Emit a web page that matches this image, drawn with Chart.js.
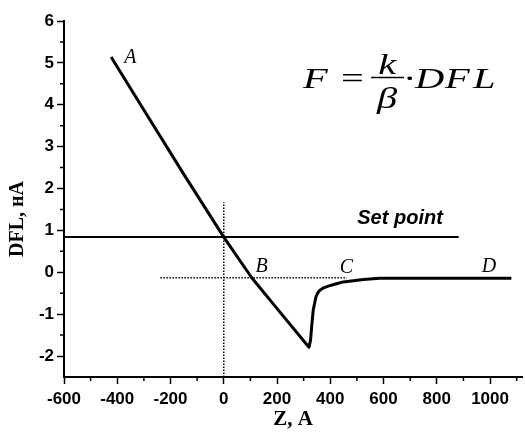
<!DOCTYPE html>
<html>
<head>
<meta charset="utf-8">
<script src="https://cdn.jsdelivr.net/npm/chart.js@4.4.1/dist/chart.umd.min.js"></script>
<style>
  html, body { margin: 0; padding: 0; background: #fff; }
  #wrap { width: 525px; height: 432px; position: relative; }
</style>
</head>
<body>
<div id="wrap"><canvas id="myChart" width="525" height="432"></canvas></div>
<script>
// curve (Z in A, DFL in nA)
const curveZ   = [-423, -314, -151, 0, 105, 211, 320, 326, 330, 336, 346, 353, 361, 375, 392, 420, 449, 524, 586, 700, 850, 1000, 1080];
const curveDFL = [5.14, 4.02, 2.35, 0.84, -0.13, -0.95, -1.79, -1.62, -1.30, -0.90, -0.59, -0.49, -0.43, -0.37, -0.33, -0.28, -0.23, -0.17, -0.14, -0.14, -0.14, -0.14, -0.14];

// set point line and the two dotted guides
const setPointZ = [-600, 882];
const setPointDFL = [0.84, 0.84];
const vGuideZ = [0, 0];
const vGuideDFL = [-2.5, 1.67];
const hGuideZ = [-238, 462];
const hGuideDFL = [-0.13, -0.13];

// axes
const xTicks = [-600, -400, -200, 0, 200, 400, 600, 800, 1000];
const xMinor = [-500, -300, -100, 100, 300, 500, 700, 900, 1100];
const yTicks = [-2, -1, 0, 1, 2, 3, 4, 5, 6];
const yMinor = [-1.5, -0.5, 0.5, 1.5, 2.5, 3.5, 4.5, 5.5];

// letters on the curve
const pointNames = ['A', 'B', 'C', 'D'];
const pointZ = [-351, 142, 461, 996];
const pointDFL = [5.12, 0.14, 0.11, 0.14];

const toXY = (xs, ys) => xs.map((x, i) => ({ x: x, y: ys[i] }));

const sans = '"Liberation Sans", Arial, sans-serif';
const serif = '"Liberation Serif", "Times New Roman", serif';

// the formula in the picture is stretched sideways
function wideText(c, text, x, y, font, align) {
    c.save();
    c.translate(x, y);
    c.scale(1.35, 1);
    c.font = font;
    c.textAlign = align;
    c.fillText(text, 0, 0);
    c.restore();
}

const extras = {
    id: 'extras',
    afterDraw(chart) {
        const c = chart.ctx;
        const xs = chart.scales.x, ys = chart.scales.y;
        const area = chart.chartArea;
        c.save();

        // minor ticks
        c.strokeStyle = '#000';
        c.lineWidth = 1.5;
        c.beginPath();
        xMinor.forEach(v => {
            const px = xs.getPixelForValue(v);
            c.moveTo(px, area.bottom);
            c.lineTo(px, area.bottom + 4);
        });
        yMinor.forEach(v => {
            const py = ys.getPixelForValue(v);
            c.moveTo(area.left, py);
            c.lineTo(area.left - 4, py);
        });
        c.stroke();

        // A B C D
        c.fillStyle = '#000';
        c.textAlign = 'center';
        c.textBaseline = 'middle';
        c.font = 'italic 20px ' + serif;
        pointNames.forEach((n, i) => {
            c.fillText(n, xs.getPixelForValue(pointZ[i]), ys.getPixelForValue(pointDFL[i]));
        });

        // Set point
        c.font = 'bold italic 20px ' + sans;
        c.fillText('Set point', xs.getPixelForValue(662), ys.getPixelForValue(1.28));

        // formula F = k/β · DFL
        const fx = xs.getPixelForValue(298);
        const fy = ys.getPixelForValue(4.41);
        const it = 'italic 30px ' + serif, up = '30px ' + serif;
        c.textBaseline = 'alphabetic';
        wideText(c, 'F', fx, fy, it, 'left');
        wideText(c, '=', fx + 38, fy, up, 'left');
        wideText(c, 'k', fx + 84, fy - 14, it, 'center');
        wideText(c, '\u03B2', fx + 84, fy + 20, it, 'center');
        c.lineWidth = 1.5;
        c.beginPath();
        c.moveTo(fx + 68, fy - 10);
        c.lineTo(fx + 101, fy - 10);
        c.stroke();
        wideText(c, '\u00B7', fx + 100, fy, up, 'left');
        wideText(c, 'D', fx + 112, fy, it, 'left');
        wideText(c, 'F', fx + 142, fy, it, 'left');
        wideText(c, 'L', fx + 170, fy, it, 'left');

        // y title
        c.translate(area.left - 46, (area.top + area.bottom) / 2 + 20);
        c.rotate(-Math.PI / 2);
        c.textAlign = 'center';
        c.textBaseline = 'middle';
        c.font = 'bold 20px ' + serif;
        c.fillText('DFL, нА', 0, 0);

        c.restore();
    }
};

const ctx = document.getElementById('myChart').getContext('2d');

new Chart(ctx, {
    type: 'scatter',
    data: {
        datasets: [{
            data: toXY(curveZ, curveDFL),
            showLine: true,
            borderColor: '#000',
            borderWidth: 3,
            borderJoinStyle: 'round',
            pointRadius: 0,
            tension: 0
        }, {
            data: toXY(setPointZ, setPointDFL),
            showLine: true,
            borderColor: '#000',
            borderWidth: 2,
            pointRadius: 0
        }, {
            data: toXY(vGuideZ, vGuideDFL),
            showLine: true,
            borderColor: '#000',
            borderWidth: 1.5,
            borderDash: [1.5, 1.5],
            pointRadius: 0
        }, {
            data: toXY(hGuideZ, hGuideDFL),
            showLine: true,
            borderColor: '#000',
            borderWidth: 1.5,
            borderDash: [1.5, 1.5],
            pointRadius: 0
        }]
    },
    options: {
        responsive: false,
        animation: false,
        layout: { padding: { top: 21, right: 3, left: 0, bottom: 0 } },
        plugins: {
            legend: { display: false },
            tooltip: { enabled: false }
        },
        scales: {
            x: {
                type: 'linear',
                min: -600,
                max: 1120,
                afterBuildTicks: s => { s.ticks = xTicks.map(v => ({ value: v })); },
                afterFit: s => { s.height = 55; },
                border: { color: '#000', width: 2 },
                grid: { drawOnChartArea: false, color: '#000', tickLength: 7, tickWidth: 1.5 },
                ticks: {
                    color: '#000',
                    padding: 5,
                    maxRotation: 0,
                    callback: v => String(v),
                    font: { family: sans, size: 17, weight: 'bold' }
                },
                title: {
                    display: true,
                    text: 'Z, A',
                    color: '#000',
                    padding: 0,
                    font: { family: serif, size: 21, weight: 'bold' }
                }
            },
            y: {
                type: 'linear',
                min: -2.5,
                max: 6,
                afterBuildTicks: s => { s.ticks = yTicks.map(v => ({ value: v })); },
                afterFit: s => { s.width = 64; },
                border: { color: '#000', width: 2 },
                grid: { drawOnChartArea: false, color: '#000', tickLength: 7, tickWidth: 1.5 },
                ticks: {
                    color: '#000',
                    padding: 3,
                    callback: v => String(v),
                    font: { family: sans, size: 17, weight: 'bold' }
                }
            }
        }
    },
    plugins: [extras]
});
</script>
</body>
</html>
